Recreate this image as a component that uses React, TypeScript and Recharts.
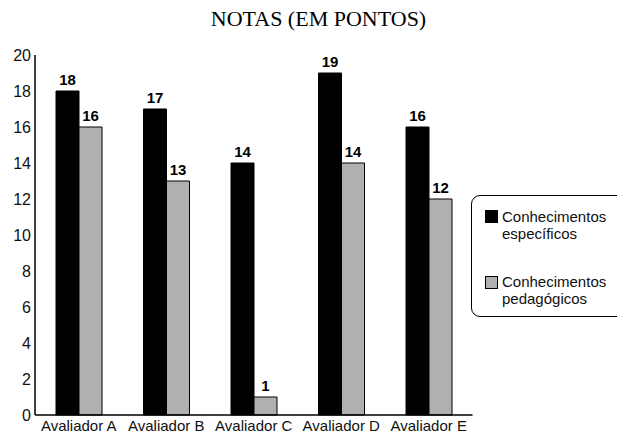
import React from "react";
import { BarChart, Bar, XAxis, YAxis, LabelList } from "recharts";

const categories = ["Avaliador A", "Avaliador B", "Avaliador C", "Avaliador D", "Avaliador E"];
const especificos = [18, 17, 14, 19, 16];
const pedagogicos = [16, 13, 1, 14, 12];
const yTicks = [0, 2, 4, 6, 8, 10, 12, 14, 16, 18, 20];

const data = categories.map((c, i) => ({ name: c, esp: especificos[i], ped: pedagogicos[i] }));

const FONT = "'Liberation Sans', Arial, sans-serif";

const LegendBox = () => (
  <div
    style={{
      position: "absolute",
      left: 471,
      top: 195,
      width: 170,
      height: 122,
      border: "1px solid #000",
      borderRadius: 9,
      boxSizing: "border-box",
      fontFamily: FONT,
      fontSize: 15,
      lineHeight: "17px",
      color: "#111",
      background: "#fff",
    }}
  >
    <div style={{ position: "absolute", left: 13, top: 14, width: 13, height: 13, background: "#000", border: "1px solid #000", boxSizing: "border-box" }} />
    <div style={{ position: "absolute", left: 30, top: 12 }}>
      Conhecimentos<br />específicos
    </div>
    <div style={{ position: "absolute", left: 13, top: 80, width: 13, height: 13, background: "#b0b0b0", border: "1px solid #000", boxSizing: "border-box" }} />
    <div style={{ position: "absolute", left: 30, top: 77 }}>
      Conhecimentos<br />pedagógicos
    </div>
  </div>
);

export default function App() {
  return (
    <div style={{ position: "absolute", left: 0, top: 0, width: 617, height: 434, background: "#fff", overflow: "hidden" }}>
      <div
        style={{
          position: "absolute",
          left: 0,
          top: 6,
          width: 637,
          textAlign: "center",
          fontFamily: "'Liberation Serif', 'Times New Roman', serif",
          fontSize: 22,
          color: "#000",
        }}
      >
        NOTAS (EM PONTOS)
      </div>
      <BarChart
        width={617}
        height={434}
        data={data}
        margin={{ top: 55, right: 144.5, bottom: 0, left: 0 }}
        barGap={0}
        barSize={23}
        style={{ position: "absolute", left: 0, top: 0 }}
      >
        <XAxis
          dataKey="name"
          height={19}
          axisLine={{ stroke: "#000", strokeWidth: 1.5 }}
          tickLine={false}
          tickSize={0}
          tickMargin={5}
          interval={0}
          tick={{ fill: "#111", fontSize: 15, fontFamily: FONT }}
        />
        <YAxis
          width={35}
          domain={[0, 20]}
          ticks={yTicks}
          axisLine={{ stroke: "#000", strokeWidth: 1.5 }}
          tickLine={false}
          tickSize={0}
          tickMargin={4}
          interval={0}
          tick={{ fill: "#111", fontSize: 16, fontFamily: FONT }}
        />
        <Bar dataKey="esp" name="Conhecimentos específicos" fill="#000" stroke="#000" strokeWidth={1} isAnimationActive={false}>
          <LabelList dataKey="esp" position="top" offset={6} style={{ fill: "#000", fontSize: 15, fontWeight: "bold", fontFamily: FONT }} />
        </Bar>
        <Bar dataKey="ped" name="Conhecimentos pedagógicos" fill="#b0b0b0" stroke="#000" strokeWidth={1} isAnimationActive={false}>
          <LabelList dataKey="ped" position="top" offset={6} style={{ fill: "#000", fontSize: 15, fontWeight: "bold", fontFamily: FONT }} />
        </Bar>
      </BarChart>
      <LegendBox />
    </div>
  );
}
